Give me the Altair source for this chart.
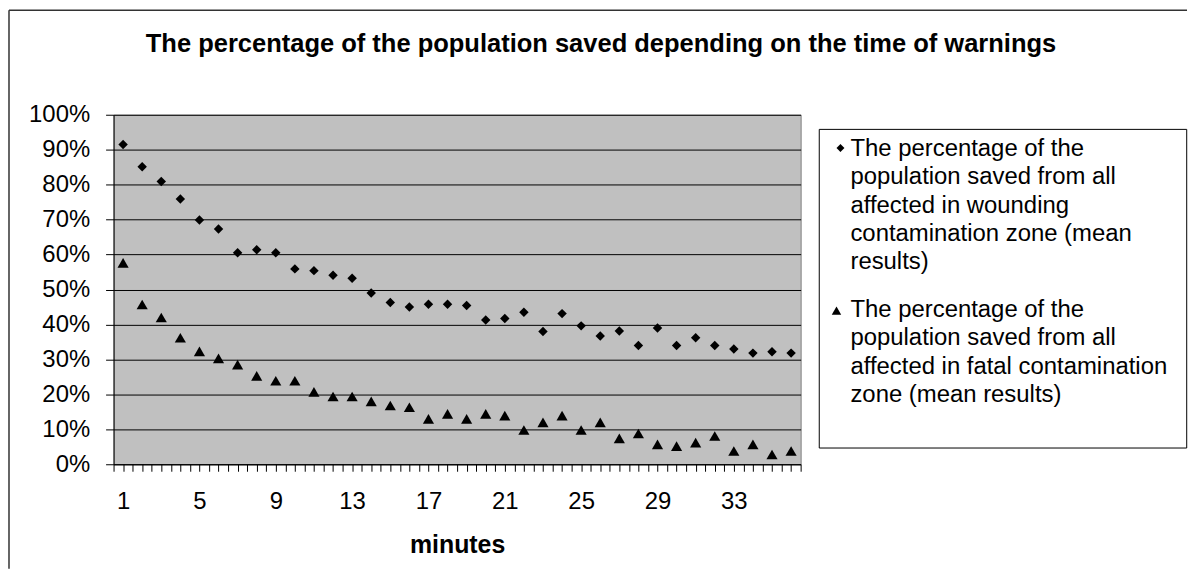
import altair as alt
import pandas as pd

# ---------------- data ----------------
minutes = [1, 2, 3, 4, 5, 6, 7, 8, 9, 10, 11, 12, 13, 14, 15, 16, 17, 18,
           19, 20, 21, 22, 23, 24, 25, 26, 27, 28, 29, 30, 31, 32, 33, 34, 35, 36]

wounding = [91.5, 85.1, 80.9, 75.9, 69.9, 67.3, 60.5, 61.4, 60.5, 55.9, 55.4, 54.1,
            53.2, 49.0, 46.3, 45.0, 45.8, 45.8, 45.4, 41.3, 41.7, 43.5, 38.0, 43.1,
            39.6, 36.7, 38.1, 34.0, 39.0, 34.0, 36.2, 34.0, 33.0, 31.8, 32.2, 31.8]

fatal = [57.6, 45.7, 42.0, 36.2, 32.3, 30.3, 28.5, 25.3, 23.9, 23.9, 20.7, 19.4,
         19.4, 18.0, 16.8, 16.3, 13.0, 14.4, 13.0, 14.4, 13.9, 9.8, 12.0, 13.9,
         9.8, 12.0, 7.4, 8.8, 5.7, 5.2, 6.2, 8.1, 3.8, 5.7, 2.8, 3.8]

series_names = [
    "The percentage of the population saved from all affected in wounding contamination zone (mean results)",
    "The percentage of the population saved from all affected in fatal contamination zone (mean results)",
]
legend_lines = [
    ["The percentage of the", "population saved from all", "affected in wounding",
     "contamination zone (mean", "results)"],
    ["The percentage of the", "population saved from all",
     "affected in fatal contamination", "zone (mean results)"],
]
x_tick_labels = [1, 5, 9, 13, 17, 21, 25, 29, 33]
y_ticks = [0.0, 0.1, 0.2, 0.3, 0.4, 0.5, 0.6, 0.7, 0.8, 0.9, 1.0]
chart_title = "The percentage of the population saved depending on the time of warnings"
x_title = "minutes"

FONT = "Liberation Sans"

df = pd.DataFrame({
    "minute": minutes + minutes,
    "value": [v / 100 for v in wounding] + [v / 100 for v in fatal],
    "series": [series_names[0]] * len(minutes) + [series_names[1]] * len(minutes),
})

# tick marks at category boundaries and category centres
tick_vals = sorted(set([float(m) - 0.5 for m in minutes] + [float(m) for m in minutes]
                       + [minutes[-1] + 0.5]))

x_scale = alt.Scale(domain=[minutes[0] - 0.5, minutes[-1] + 0.5], nice=False, zero=False)
y_scale = alt.Scale(domain=[0, 1], nice=False)

label_expr = "(" + " || ".join(f"datum.value == {v}" for v in x_tick_labels) + \
             ") ? format(datum.value, 'd') : ''"

points = alt.Chart(df).mark_point(filled=True, opacity=1, color="black", strokeWidth=0).encode(
    x=alt.X("minute:Q", scale=x_scale,
            axis=alt.Axis(values=tick_vals, labelExpr=label_expr, title=x_title,
                          tickSize=7, labelPadding=18, titlePadding=20, grid=False,
                          labelFontSize=24, titleFontSize=25, titleFontWeight="bold",
                          labelFont=FONT, titleFont=FONT, labelFlush=False, labelOverlap=False,
                          domainColor="black", tickColor="black", labelColor="black",
                          titleColor="black", domainWidth=1, tickWidth=1)),
    y=alt.Y("value:Q", scale=y_scale,
            axis=alt.Axis(values=y_ticks, format=".0%", title=None, tickSize=8, labelPadding=16,
                          grid=True, gridColor="black", gridOpacity=1, gridWidth=1,
                          labelFontSize=24, labelFont=FONT, labelColor="black",
                          domainColor="black", tickColor="black", labelFlush=False,
                          labelOverlap=False)),
    shape=alt.Shape("series:N", scale=alt.Scale(domain=series_names,
                                                range=["diamond", "triangle-up"]), legend=None),
    size=alt.Size("series:N", scale=alt.Scale(domain=series_names, range=[90, 125]), legend=None),
)

dummy = pd.DataFrame({"k": [0]})

legend_box = alt.Chart(dummy).mark_rect(fill="white", stroke="black", strokeWidth=1).encode(
    x=alt.value(708.7), x2=alt.value(1077.7), y=alt.value(14.7), y2=alt.value(334.7))

legend_sym1 = alt.Chart(dummy).mark_point(shape="diamond", filled=True, color="black",
                                          opacity=1, size=64, strokeWidth=0).encode(
    x=alt.value(730), y=alt.value(33.4))
legend_sym2 = alt.Chart(dummy).mark_point(shape="triangle-up", filled=True, color="black",
                                          opacity=1, size=90, strokeWidth=0).encode(
    x=alt.value(726), y=alt.value(196.7))

legend_txt1 = alt.Chart(dummy).mark_text(align="left", baseline="alphabetic", fontSize=24,
                                         lineHeight=28.3, font=FONT, color="black").encode(
    x=alt.value(740), y=alt.value(41.7), text=alt.value(legend_lines[0]))
legend_txt2 = alt.Chart(dummy).mark_text(align="left", baseline="alphabetic", fontSize=24,
                                         lineHeight=28.3, font=FONT, color="black").encode(
    x=alt.value(740), y=alt.value(203.4), text=alt.value(legend_lines[1]))

border_left = alt.Chart(dummy).mark_rule(color="#333333", strokeWidth=1.5).encode(
    x=alt.value(-105), y=alt.value(-105), y2=alt.value(456))
border_top = alt.Chart(dummy).mark_rule(color="#333333", strokeWidth=1.5).encode(
    x=alt.value(-105), x2=alt.value(1078), y=alt.value(-105))

chart = alt.layer(
    points, legend_box, legend_sym1, legend_sym2, legend_txt1, legend_txt2,
    border_left, border_top,
).properties(
    width=690, height=351, padding=0,
    title=alt.TitleParams(text=chart_title, font=FONT, fontSize=25.6, fontWeight="bold",
                          anchor="middle", frame="group", offset=0, baseline="alphabetic",
                          dx=144.5, dy=68, color="black"),
    background="white",
).configure_view(
    fill="#C0C0C0", stroke="#808080", strokeWidth=1
)

chart.save("out.html", embed_options={"renderer": "svg", "actions": False})
